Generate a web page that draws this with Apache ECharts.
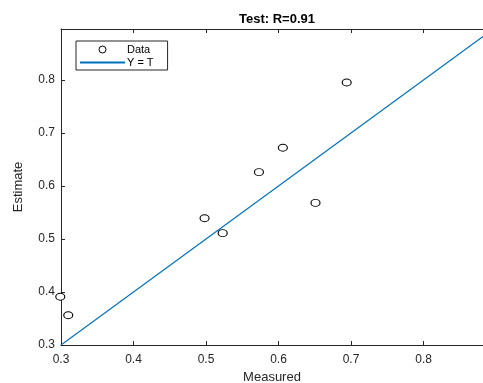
<!DOCTYPE html>
<html>
<head>
<meta charset="utf-8">
<script src="https://cdn.jsdelivr.net/npm/echarts@6/dist/echarts.min.js"></script>
<style>
  html, body { margin: 0; padding: 0; background: #fff; }
  #chart { width: 483px; height: 383px; }
</style>
</head>
<body>
<div id="chart"></div>
<script>
// measured vs estimate points (test set)
var measured = [0.299, 0.310, 0.498, 0.523, 0.573, 0.606, 0.651, 0.694];
var estimate = [0.391, 0.356, 0.539, 0.511, 0.626, 0.672, 0.568, 0.795];

// Y = T reference line ends
var lineX = [0.3, 0.882];
var lineY = [0.3, 0.882];

var xTicks = [0.3, 0.4, 0.5, 0.6, 0.7, 0.8];
var yTicks = [0.3, 0.4, 0.5, 0.6, 0.7, 0.8];

var myChart = echarts.init(document.getElementById("chart"));

var axisColor = "#262626";
var font = "Liberation Sans, Arial, sans-serif";

var points = measured.map(function (m, i) { return [m, estimate[i]]; });
var line = lineX.map(function (x, i) { return [x, lineY[i]]; });

var option = {
    animation: false,
    backgroundColor: "#fff",
    title: {
        text: "Test: R=0.91",
        left: 272,
        top: 8,
        textAlign: "center",
        textStyle: { fontFamily: font, fontSize: 13, fontWeight: "bold", color: "#000" }
    },
    legend: {
        orient: "vertical",
        left: 76,
        top: 41,
        itemWidth: 45,
        itemHeight: 7,
        itemGap: 2,
        padding: [3, 14, 2, 3],
        borderColor: "#262626",
        borderWidth: 1,
        backgroundColor: "#fff",
        textStyle: { fontFamily: font, fontSize: 11, color: "#000", padding: [0, 0, 0, -3] },
        data: [
            { name: "Data", icon: "circle", itemStyle: { color: "#fff", borderColor: "#000", borderWidth: 1 } },
            { name: "Y = T", itemStyle: { opacity: 0 } }
        ]
    },
    grid: { left: 61, top: 29, right: 0, bottom: 38, outerBoundsMode: "none" },
    xAxis: [
        {
            type: "value",
            min: 0.3,
            max: 0.882,
            name: "Measured",
            nameLocation: "middle",
            nameGap: 25,
            nameTextStyle: { fontFamily: font, fontSize: 13, color: axisColor },
            axisLine: { lineStyle: { color: axisColor, width: 1 } },
            axisTick: { inside: true, length: 4, customValues: xTicks, lineStyle: { color: axisColor } },
            axisLabel: { customValues: xTicks, fontFamily: font, fontSize: 12, color: axisColor, margin: 9,
                formatter: function (v) { return v.toFixed(1); } },
            splitLine: { show: false }
        },
        {
            type: "value",
            position: "top",
            min: 0.3,
            max: 0.882,
            axisLine: { onZero: false, lineStyle: { color: axisColor, width: 1 } },
            axisTick: { inside: true, length: 4, customValues: xTicks, lineStyle: { color: axisColor } },
            axisLabel: { show: false },
            splitLine: { show: false }
        }
    ],
    yAxis: {
        type: "value",
        min: 0.3,
        max: 0.896,
        name: "Estimate",
        nameLocation: "middle",
        nameGap: 36,
        nameTextStyle: { fontFamily: font, fontSize: 13, color: axisColor },
        axisLine: { show: true, lineStyle: { color: axisColor, width: 1 } },
        axisTick: { show: true, inside: true, length: 4, customValues: yTicks, lineStyle: { color: axisColor } },
        axisLabel: { customValues: yTicks, fontFamily: font, fontSize: 12, color: axisColor, margin: 6,
            formatter: function (v) { return v.toFixed(1); } },
        splitLine: { show: false }
    },
    series: [
        {
            name: "Data",
            type: "scatter",
            data: points,
            clip: false,
            symbol: "circle",
            symbolSize: [9, 7],
            itemStyle: { color: "#fff", borderColor: "#000", borderWidth: 1, opacity: 1 },
            z: 3
        },
        {
            name: "Y = T",
            type: "line",
            data: line,
            showSymbol: false,
            symbol: "none",
            lineStyle: { color: "#0072BD", width: 1.2 },
            itemStyle: { color: "#0072BD" },
            z: 2
        }
    ]
};

myChart.setOption(option);
</script>
</body>
</html>
